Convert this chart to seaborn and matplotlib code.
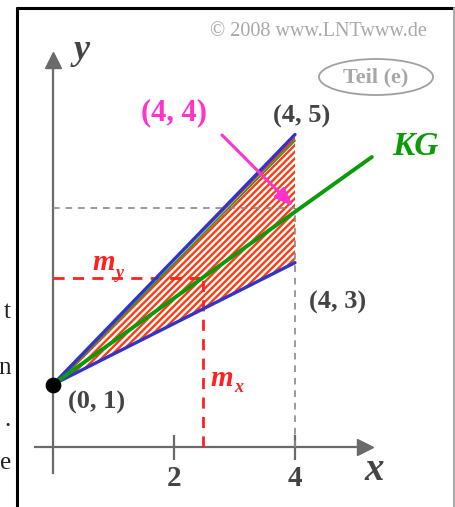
import numpy as np
import pandas as pd
import matplotlib
matplotlib.use("Agg")
import matplotlib.pyplot as plt
from matplotlib.patches import Ellipse
from matplotlib.lines import Line2D
import seaborn as sns

# ---------------- data ----------------
origin = (0.0, 1.0)
upper_end = (4.0, 5.0)
lower_end = (4.0, 2.95)
kg_x = [0.0, 5.27]
kg_y = [1.0, 4.64]
m_x = 2.48
m_y = 2.71
p44_y = 3.82
x_ticks = [2, 4]
x_tick_labels = ["2", "4"]

W, H = 455, 507
sns.set_theme(style="white")
plt.rcParams["font.family"] = ["Liberation Serif", "DejaVu Serif"]
plt.rcParams["hatch.linewidth"] = 1.7

fig = plt.figure(figsize=(W / 100, H / 100), dpi=100)
ax = fig.add_axes([0, 0, 1, 1])
ax.set_facecolor("white")

# pixel mapping of axes: x_px = 53 + 60.5*x ; y_px = 447 - 62.5*y
ax.set_xlim(-53 / 60.5, (W - 53) / 60.5)
ax.set_ylim((447 - H) / 62.5, 447 / 62.5)

def P(px, py):
    return (px / W, 1 - py / H)

AX = "#6a6a6a"
TXT = "#444444"
RED = "#ff2020"

# spines as arrows
for s in ["top", "right"]:
    ax.spines[s].set_visible(False)
ax.spines["left"].set_position(("data", 0))
ax.spines["bottom"].set_position(("data", 0))
ax.spines["left"].set_bounds(-0.42, 6.15)
ax.spines["bottom"].set_bounds(-0.3, 5.12)
for s in ["left", "bottom"]:
    ax.spines[s].set_color(AX)
    ax.spines[s].set_linewidth(1.6)
    ax.spines[s].set_zorder(1)
ax.plot([0], [6.2], marker="^", ms=11, color=AX, clip_on=False, zorder=2)
ax.plot([5.165], [0], marker=">", ms=11, color=AX, clip_on=False, zorder=2)

ax.set_yticks([])
ax.set_xticks(x_ticks)
ax.set_xticklabels(x_tick_labels, fontsize=21, fontweight="bold", color=TXT)
ax.tick_params(axis="x", direction="inout", length=18, width=1.6, color=AX,
               pad=4, bottom=True)
ax.grid(False)

# hatched triangle
ax.fill_between([origin[0], upper_end[0]], [origin[1], lower_end[1]],
                [origin[1], upper_end[1]], facecolor="white",
                edgecolor="#ff3a10", hatch="/////", linewidth=0, zorder=2)

# dashed helpers
sns.lineplot(x=[0, 4], y=[p44_y, p44_y], ax=ax, color="#8a8a8a", lw=1.2,
             linestyle=(0, (4, 3.5)), estimator=None, sort=False, zorder=3)
sns.lineplot(x=[4, 4], y=[0, p44_y], ax=ax, color="#8a8a8a", lw=1.2,
             linestyle=(0, (4, 3.5)), estimator=None, sort=False, zorder=3)
sns.lineplot(x=[0, m_x], y=[m_y, m_y], ax=ax, color=RED, lw=2,
             linestyle=(0, (4, 3)), estimator=None, sort=False, zorder=3)
sns.lineplot(x=[m_x, m_x], y=[0, m_y], ax=ax, color=RED, lw=2,
             linestyle=(0, (4, 3)), estimator=None, sort=False, zorder=3)

# boundary lines
sns.lineplot(x=[origin[0], upper_end[0]], y=[origin[1] - 0.03, upper_end[1] - 0.1], ax=ax,
             color="#2a9a2a", lw=1.3, estimator=None, sort=False, zorder=4)
sns.lineplot(x=[origin[0], upper_end[0]], y=[origin[1], upper_end[1]], ax=ax,
             color="#3333cc", lw=2.4, estimator=None, sort=False, zorder=5)
sns.lineplot(x=[origin[0], lower_end[0]], y=[origin[1], lower_end[1]], ax=ax,
             color="#3333cc", lw=2.4, estimator=None, sort=False, zorder=5)
sns.lineplot(x=kg_x, y=kg_y, ax=ax, color="#0a9a0a", lw=2.8,
             estimator=None, sort=False, zorder=6)
sns.scatterplot(x=[origin[0]], y=[origin[1]], ax=ax, color="black", s=110,
                edgecolor="black", zorder=7, clip_on=False)

# magenta arrow (4,4)
ax.annotate("", xy=(4, p44_y), xytext=((220 - 53) / 60.5, (447 - 133) / 62.5),
            arrowprops=dict(arrowstyle="-|>,head_length=0.9,head_width=0.35",
                            color="#ff33cc", lw=2.2), zorder=8)

# texts
def T(px, py, s, ha="center", **kw):
    fig.text(*P(px, py), s, ha=ha, va="center", **kw)

T(174, 113, "(4, 4)", fontsize=22, fontweight="bold", color="#ff33cc")
T(302, 116, "(4, 5)", fontsize=19, fontweight="bold", color=TXT)
T(338, 302, "(4, 3)", fontsize=19, fontweight="bold", color=TXT)
T(97, 402, "(0, 1)", fontsize=19, fontweight="bold", color=TXT)
T(415, 147, "KG", fontsize=24, fontweight="bold", style="italic", color="#0a9a0a")
# m_y and m_x
T(92, 262, "m", ha="left", fontsize=21, fontweight="bold", style="italic", color=RED)
T(116, 273, "y", ha="left", fontsize=13, fontweight="bold", style="italic", color=RED)
T(210, 378, "m", ha="left", fontsize=21, fontweight="bold", style="italic", color=RED)
T(234, 388, "x", ha="left", fontsize=13, fontweight="bold", style="italic", color=RED)
T(374, 471, "x", fontsize=28, style="italic", fontweight="bold", color=TXT)
T(82, 50, "y", fontsize=26, style="italic", fontweight="bold", color=TXT)
T(318, 31, "\u00a9 2008 www.LNTwww.de", fontsize=14.5, color="#a8a8a8")
T(376, 77, "Teil (e)", fontsize=16, fontweight="bold", color="#a8a8a8")
fig.add_artist(Ellipse(P(376, 77), 114 / W, 36 / H, transform=fig.transFigure,
                       fill=False, edgecolor="#a0a0a0", lw=1.3))

# frame
fig.add_artist(Line2D([17 / W, 17 / W], [0, 1 - 8 / H], transform=fig.transFigure,
                      color="black", lw=2.2))
fig.add_artist(Line2D([17 / W, 454 / W], [1 - 8 / H, 1 - 8 / H], transform=fig.transFigure,
                      color="black", lw=2.2))
fig.add_artist(Line2D([454 / W, 454 / W], [0, 1 - 8 / H], transform=fig.transFigure,
                      color="#aaaaaa", lw=1.5))

# fragments of surrounding page text at the left edge
for py, s in [(312, "t"), (368, "n"), (420, "."), (463, "e")]:
    fig.text(*P(11, py), s, ha="right", va="center", fontsize=18, color="#222222")

fig.savefig("out.png", dpi=100)
